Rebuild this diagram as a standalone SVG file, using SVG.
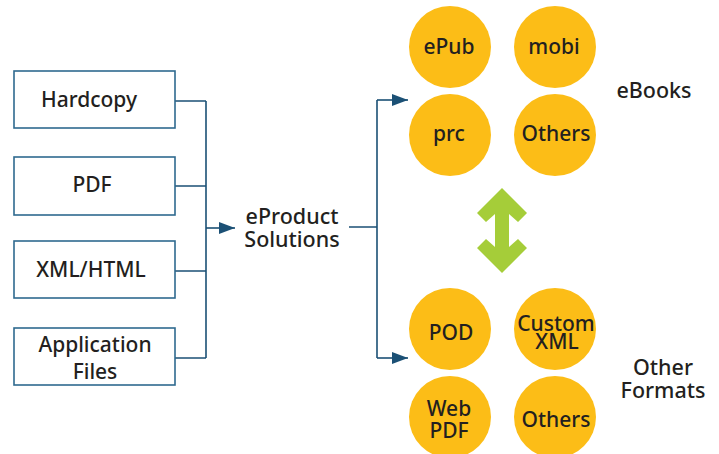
<svg xmlns="http://www.w3.org/2000/svg" width="719" height="454" viewBox="0 0 719 454">
<defs>
<marker id="ah" markerWidth="16" markerHeight="12" refX="16" refY="6" orient="auto" markerUnits="userSpaceOnUse">
<path d="M0,0 L16,6 L0,12 Z" fill="#1B5075"/>
</marker>
<style>
text{font-family:"Noto Sans","Open Sans","Liberation Sans",sans-serif;font-weight:500;fill:#231F20;text-anchor:middle;}
.box{fill:#fff;stroke:#2F6A8F;stroke-width:1.6;}
.lbl{font-size:21px;}
.big{font-size:21.5px;}
.cl{font-size:21px;}
.circ{fill:#FCBD17;}
.con{fill:none;stroke:#1B5075;stroke-width:1.6;}
</style>
</defs>
<rect width="719" height="454" fill="#fff"/>
<g id="connectors">
<path class="con" d="M175,101 H206 M175,186 H206 M175,271 H206 M175,358 H206 M206,101 V358"/>
<path class="con" d="M206,228 H235" marker-end="url(#ah)"/>
<path class="con" d="M349,227 H377 M377,100 V358"/>
<path class="con" d="M377,100 H408" marker-end="url(#ah)"/>
<path class="con" d="M377,358 H408" marker-end="url(#ah)"/>
</g>
<g id="hardcopy"><rect class="box" x="14" y="71" width="161" height="57"/><text class="lbl" x="89" y="107">Hardcopy</text></g>
<g id="pdf"><rect class="box" x="14" y="157" width="161" height="58"/><text class="lbl" x="92" y="192">PDF</text></g>
<g id="xmlhtml"><rect class="box" x="14" y="241" width="161" height="57"/><text class="lbl" x="91" y="277">XML/HTML</text></g>
<g id="appfiles"><rect class="box" x="14" y="328" width="161" height="57"/><text class="lbl" x="95" y="352">Application</text><text class="lbl" x="95" y="379">Files</text></g>
<g id="eproduct"><text class="big" x="292" y="224">eProduct</text><text class="big" x="292" y="247">Solutions</text></g>
<g id="epub"><circle class="circ" cx="450" cy="47" r="41"/><text class="cl" x="449" y="54">ePub</text></g>
<g id="mobi"><circle class="circ" cx="555" cy="47" r="41"/><text class="cl" x="554" y="54">mobi</text></g>
<g id="prc"><circle class="circ" cx="450" cy="135" r="41"/><text class="cl" x="449" y="141">prc</text></g>
<g id="others1"><circle class="circ" cx="555" cy="135" r="41"/><text class="cl" x="556" y="141">Others</text></g>
<g id="ebooks"><text class="big" x="654" y="98">eBooks</text></g>
<g id="swap"><path fill="#A5CD39" d="M502,188 L527,213 L518,222 L509,214 L509,247 L518,239 L527,248 L502,273 L477,248 L486,239 L495,247 L495,214 L486,222 L477,213 Z"/></g>
<g id="pod"><circle class="circ" cx="450" cy="329" r="41"/><text class="cl" x="451" y="340">POD</text></g>
<g id="customxml"><circle class="circ" cx="555" cy="329" r="41"/><text class="cl" x="556" y="331">Custom</text><text class="cl" x="557" y="349">XML</text></g>
<g id="webpdf"><circle class="circ" cx="450" cy="417" r="41"/><text class="cl" x="449" y="416">Web</text><text class="cl" x="449" y="438">PDF</text></g>
<g id="others2"><circle class="circ" cx="555" cy="417" r="41"/><text class="cl" x="556" y="427">Others</text></g>
<g id="otherformats"><text class="big" x="663" y="375">Other</text><text class="big" x="663" y="398">Formats</text></g>
</svg>
